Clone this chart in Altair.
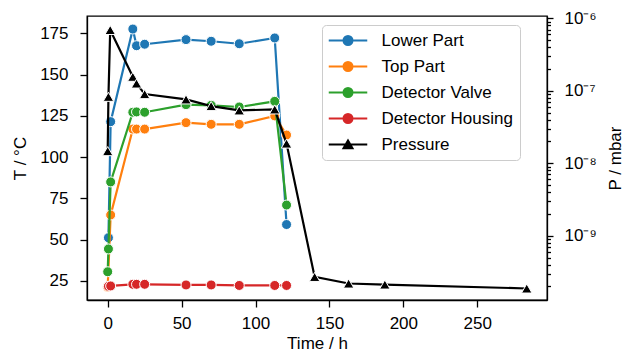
import altair as alt
import pandas as pd

# ---------------- data ----------------
series_names = ["Lower Part", "Top Part", "Detector Valve", "Detector Housing", "Pressure"]
series_colors = ["#1f77b4", "#ff7f0e", "#2ca02c", "#d62728", "#000000"]

lower_time = [0.5, 2, 17, 19.5, 25, 53, 70, 89, 113, 121]
lower_temp = [51.2, 121.5, 177.6, 167.5, 168.4, 171.2, 170.2, 168.7, 172.2, 59.2]

top_time = [0, 2, 17, 19.5, 25, 53, 70, 89, 113, 121]
top_temp = [21.3, 65.0, 117.0, 117.0, 117.0, 120.9, 119.9, 119.9, 125.0, 113.4]

valve_time = [0, 0.5, 2, 17, 19.5, 25, 53, 70, 89, 113, 121]
valve_temp = [30.6, 44.4, 85.0, 127.2, 127.4, 127.2, 131.8, 131.4, 130.4, 133.8, 71.0]

housing_time = [0.5, 2, 17, 19.5, 25, 53, 70, 89, 113, 121]
housing_temp = [21.8, 22.0, 23.0, 23.0, 23.0, 22.6, 22.6, 22.3, 22.3, 22.3]

pressure_time = [0, 0.5, 1.7, 17, 19.5, 25, 53, 70, 89, 113, 121, 140, 163, 187.5, 283.5]
pressure_mbar = [1.47e-8, 8.26e-8, 6.9e-7, 1.56e-7, 1.26e-7, 9.0e-8, 7.6e-8, 6.15e-8,
                 5.36e-8, 5.53e-8, 1.87e-8, 2.7e-10, 2.19e-10, 2.12e-10, 1.87e-10]

# ---------------- axes ----------------
x_ticks = [0, 50, 100, 150, 200, 250]
t_ticks = [25, 50, 75, 100, 125, 150, 175]
p_decades = [1e-10, 1e-9, 1e-8, 1e-7]
p_major = [1e-9, 1e-8, 1e-7, 1e-6]
minor_factors = [2, 3, 4, 5, 6, 7, 8, 9]
p_ticks = p_major + [f * d for d in p_decades for f in minor_factors]

x_domain = [-14.0, 297.2]
t_domain = [13.49, 185.5]
p_domain = [1.297e-10, 1.076e-6]

FONT = "Liberation Sans"
FS = 17

temp_series = [
    ("Lower Part", lower_time, lower_temp),
    ("Top Part", top_time, top_temp),
    ("Detector Valve", valve_time, valve_temp),
    ("Detector Housing", housing_time, housing_temp),
]
color_of = dict(zip(series_names, series_colors))

x_enc = alt.X(
    "time:Q",
    scale=alt.Scale(domain=x_domain, nice=False, zero=False),
    axis=alt.Axis(values=x_ticks, title="Time / h", tickSize=7, labelPadding=8,
                  titlePadding=4, format="d"),
)
y_t_enc = alt.Y(
    "value:Q",
    scale=alt.Scale(domain=t_domain, nice=False, zero=False),
    axis=alt.Axis(values=t_ticks, title="T / °C", tickSize=7, labelPadding=12,
                  titlePadding=10, format="d"),
)

temp_layers = []
for name, tt, vv in temp_series:
    df = pd.DataFrame({"time": tt, "value": vv, "series": name})
    base = alt.Chart(df).encode(x=x_enc, y=y_t_enc)
    temp_layers.append(base.mark_line(color=color_of[name], strokeWidth=2.2))
    temp_layers.append(base.mark_point(filled=True, fill=color_of[name], stroke="white",
                                       strokeWidth=1, size=100, opacity=1))

# legend layer (invisible marks, visible legend)
circle_path = "M-3.85,0L3.85,0M-0.9,0A0.9,0.9,0,1,1,0.9,0A0.9,0.9,0,1,1,-0.9,0Z"
tri_path = "M-3.85,0L3.85,0M0,-0.8L0.9,0.75L-0.9,0.75Z"
legend_paths = [circle_path, circle_path, circle_path, circle_path, tri_path]

leg = alt.Legend(
    title=None, orient="none", legendX=235, legendY=9, direction="vertical",
    padding=7, rowPadding=8, symbolOffset=10.5, labelOffset=25,
    strokeColor="#cccccc", cornerRadius=4, fillColor="white",
    symbolSize=100, symbolStrokeWidth=2, symbolFillColor="black",
    labelFont=FONT, labelFontSize=FS, labelColor="black",
)
legend_df = pd.DataFrame({"series": series_names})
legend_layer = alt.Chart(legend_df).mark_point(filled=True, opacity=0, size=100, strokeWidth=2).encode(
    fill=alt.Fill("series:N", scale=alt.Scale(domain=series_names, range=series_colors),
                  sort=series_names, legend=leg),
    stroke=alt.Stroke("series:N", scale=alt.Scale(domain=series_names, range=series_colors),
                      sort=series_names, legend=leg),
    shape=alt.Shape("series:N", scale=alt.Scale(domain=series_names, range=legend_paths),
                    sort=series_names, legend=leg),
)

temp_chart = alt.layer(*temp_layers, legend_layer)

# pressure
p_df = pd.DataFrame({"time": pressure_time, "p": pressure_mbar})
major_test = "abs(log(datum.value)/LN10 - round(log(datum.value)/LN10)) < 0.01"
sup_expr = ("(" + major_test + ") ? ('10⁻' + ['⁰','¹','²','³','⁴','⁵','⁶','⁷','⁸','⁹']"
            "[round(-log(datum.value)/LN10)]) : ''")
y_p_enc = alt.Y(
    "p:Q",
    scale=alt.Scale(type="log", domain=p_domain, nice=False),
    axis=alt.Axis(orient="right", values=p_ticks, title="P / mbar", labelExpr=sup_expr,
                  tickSize={"condition": {"test": major_test, "value": 6}, "value": 3.5},
                  labelPadding=11, labelOverlap=False, labelBound=False,
                  titleAngle=270, titleBaseline="top", titlePadding=11),
)
p_base = alt.Chart(p_df).encode(x=x_enc, y=y_p_enc)
p_chart = alt.layer(
    p_base.mark_line(color="black", strokeWidth=2.2),
    p_base.mark_point(filled=True, fill="black", stroke="white", strokeWidth=1,
                      size=110, shape="triangle-up", opacity=1),
)

chart = alt.layer(temp_chart, p_chart).resolve_scale(y="independent").properties(
    width=460, height=284,
    autosize=alt.AutoSizeParams(type="none"),
    padding={"left": 87, "top": 16, "right": 84, "bottom": 58},
).configure_view(
    stroke="black", strokeWidth=1.3
).configure_axis(
    grid=False, domainColor="black", domainWidth=1.3, tickColor="black", tickWidth=1.3,
    labelFont=FONT, labelFontSize=FS, labelColor="black",
    titleFont=FONT, titleFontSize=FS, titleFontWeight="normal", titleColor="black",
)

chart.save("out.html", embed_options={"renderer": "svg", "actions": False})
